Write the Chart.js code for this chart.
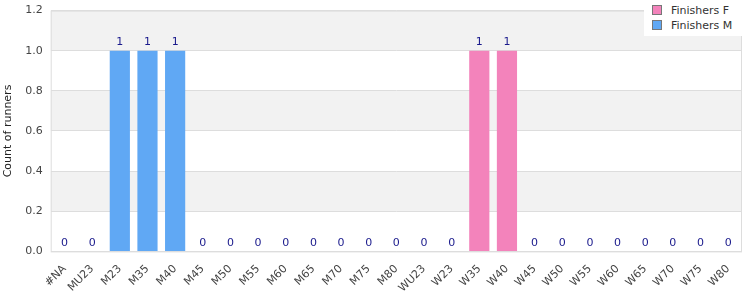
<!DOCTYPE html>
<html>
<head>
<meta charset="utf-8">
<script src="https://cdn.jsdelivr.net/npm/chart.js@4/dist/chart.umd.min.js"></script>
<style>
  html, body { margin: 0; padding: 0; background: #fff; overflow: hidden; }
  #wrap { position: relative; width: 750px; height: 300px; overflow: hidden; }
  #chart { position: absolute; left: 0; top: -4px; }
  #legend {
    position: absolute; right: 2px; top: 0; width: 96px; padding: 3px 0 3px 8px;
    background: #fff; font: 11px "DejaVu Sans", sans-serif; color: #333;
  }
  #legend div { height: 15px; line-height: 15px; white-space: nowrap; }
  #legend span {
    display: inline-block; width: 8px; height: 8px; border: 1px solid #777;
    margin-right: 9px; vertical-align: -1px;
  }
</style>
</head>
<body>
<div id="wrap">
  <canvas id="chart" width="750" height="304"></canvas>
  <div id="legend">
    <div><span style="background:#f383bb"></span>Finishers F</div>
    <div><span style="background:#60a8f4"></span>Finishers M</div>
  </div>
</div>
<script>
const categories = ['#NA', 'MU23', 'M23', 'M35', 'M40', 'M45', 'M50', 'M55', 'M60', 'M65', 'M70', 'M75', 'M80',
  'WU23', 'W23', 'W35', 'W40', 'W45', 'W50', 'W55', 'W60', 'W65', 'W70', 'W75', 'W80'];
const finishersF = [0, 0, 0, 0, 0, 0, 0, 0, 0, 0, 0, 0, 0, 0, 0, 1, 1, 0, 0, 0, 0, 0, 0, 0, 0];
const finishersM = [0, 0, 1, 1, 1, 0, 0, 0, 0, 0, 0, 0, 0, 0, 0, 0, 0, 0, 0, 0, 0, 0, 0, 0, 0];

// alternating horizontal bands + plot border
const bands = {
  id: 'bands',
  beforeDraw(chart) {
    const { ctx, chartArea: a, scales: { y } } = chart;
    ctx.save();
    const ticks = y.ticks.map(t => t.value);
    for (let i = 0; i < ticks.length - 1; i++) {
      const top = y.getPixelForValue(ticks[i + 1]);
      const bot = y.getPixelForValue(ticks[i]);
      const fromTop = ticks.length - 2 - i;
      ctx.fillStyle = fromTop % 2 === 0 ? '#f2f2f2' : '#ffffff';
      ctx.fillRect(a.left, top, a.right - a.left, bot - top);
    }
    ctx.strokeStyle = '#dddddd';
    ctx.lineWidth = 1;
    ctx.strokeRect(a.left + 0.5, a.top + 0.5, a.right - a.left - 1, a.bottom - a.top);
    ctx.restore();
  }
};

// total label above each column
const totals = {
  id: 'totals',
  afterDatasetsDraw(chart) {
    const { ctx, scales: { x, y } } = chart;
    ctx.save();
    ctx.font = '11px "DejaVu Sans", sans-serif';
    ctx.fillStyle = '#1a1a8c';
    ctx.textAlign = 'center';
    ctx.textBaseline = 'bottom';
    categories.forEach((c, i) => {
      const total = finishersF[i] + finishersM[i];
      ctx.fillText(String(total), x.getPixelForValue(i), y.getPixelForValue(total) - 3);
    });
    ctx.restore();
  }
};

new Chart(document.getElementById('chart'), {
  type: 'bar',
  data: {
    labels: categories,
    datasets: [
      { label: 'Finishers F', data: finishersF, backgroundColor: '#f383bb' },
      { label: 'Finishers M', data: finishersM, backgroundColor: '#60a8f4' }
    ]
  },
  options: {
    responsive: false,
    animation: false,
    layout: { padding: { top: 0, right: 8, left: 0, bottom: 2 } },
    datasets: { bar: { categoryPercentage: 0.73, barPercentage: 1 } },
    plugins: { legend: { display: false }, tooltip: { enabled: false } },
    scales: {
      x: {
        stacked: true,
        grid: { display: false },
        border: { display: false },
        ticks: { color: '#444', font: { family: 'DejaVu Sans', size: 11 }, maxRotation: 45, minRotation: 45, autoSkip: false }
      },
      y: {
        stacked: true,
        min: 0, max: 1.2,
        grid: { color: '#dddddd', drawTicks: false },
        border: { display: false },
        title: { display: true, text: 'Count of runners', color: '#222', padding: 2, font: { family: 'DejaVu Sans', size: 11 } },
        ticks: {
          stepSize: 0.2, padding: 8, color: '#444',
          font: { family: 'DejaVu Sans', size: 11 },
          callback: v => v.toFixed(1)
        }
      }
    }
  },
  plugins: [bands, totals]
});
</script>
</body>
</html>
